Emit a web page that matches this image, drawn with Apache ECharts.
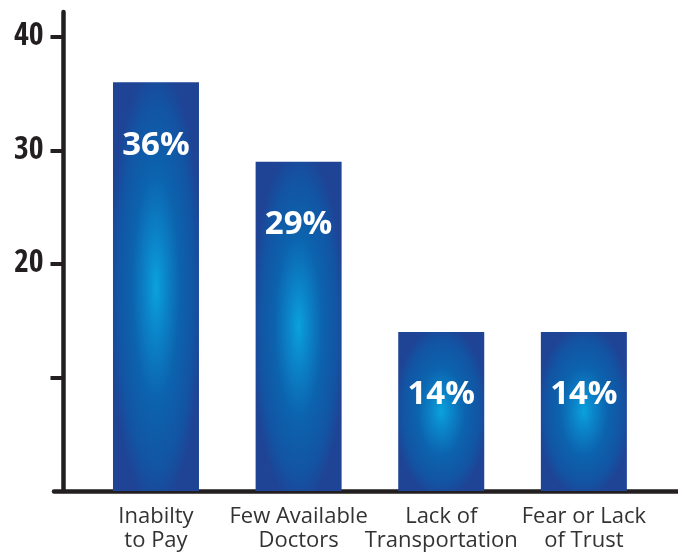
<!DOCTYPE html>
<html>
<head>
<meta charset="utf-8">
<script src="https://cdn.jsdelivr.net/npm/echarts@6/dist/echarts.min.js"></script>
<style>
  html, body { margin: 0; padding: 0; background: #ffffff; }
  #chart { width: 678px; height: 552px; }
</style>
</head>
<body>
<div id="chart"></div>
<script>
// Reasons given for not seeing a doctor (percent of respondents)
const categories = ['Inabilty\nto Pay', 'Few Available\nDoctors', 'Lack of\nTransportation', 'Fear or Lack\nof Trust'];
const percents = [36, 29, 14, 14];
const yTickValues = [10, 20, 30, 40];
const yLabelValues = [20, 30, 40];

const ink = '#231f20';

// Bars sit at positions 1..n on the horizontal value axis
const barData = percents.map((v, i) => [i + 1, v]);

const barFill = {
  type: 'radial', x: 0.5, y: 0.5, r: 0.55,
  colorStops: [
    { offset: 0, color: '#0aa2dd' },
    { offset: 0.2, color: '#0b86ca' },
    { offset: 0.5, color: '#0c63ae' },
    { offset: 0.8, color: '#1255a4' },
    { offset: 1, color: '#1f4395' }
  ]
};

function renderBar(params, api) {
  const pos = api.value(0);
  const val = api.value(1);
  const top = api.coord([pos, val]);
  const base = api.coord([pos, 0]);
  const w = api.size([0.603, 0])[0];
  const h = base[1] - top[1];
  return {
    type: 'group',
    children: [
      {
        // square with a round glow, stretched to the bar height so the glow becomes an ellipse
        type: 'rect',
        x: top[0],
        y: top[1],
        scaleY: h / w,
        shape: { x: -w / 2, y: 0, width: w, height: w },
        style: { fill: barFill }
      },
      {
        type: 'text',
        x: top[0],
        y: top[1] + 63,
        style: {
          text: val + '%',
          fill: '#ffffff',
          font: 'bold 33px "Open Sans", sans-serif',
          align: 'center',
          verticalAlign: 'middle'
        }
      }
    ]
  };
}

const chart = echarts.init(document.getElementById('chart'), null, { renderer: 'canvas' });

chart.setOption({
  animation: false,
  backgroundColor: '#ffffff',
  grid: { left: 54, right: 0, top: 12, bottom: 61, containLabel: false, outerBoundsMode: 'none' },
  xAxis: {
    type: 'value',
    min: 0.285,
    max: 4.66,
    offset: 2,
    splitLine: { show: false },
    axisLine: { show: true, lineStyle: { color: ink, width: 4.5 } },
    axisTick: { show: false },
    axisLabel: {
      customValues: categories.map((c, i) => i + 1),
      formatter: v => categories[Math.round(v) - 1] || '',
      color: '#333333',
      fontFamily: '"Open Sans", sans-serif',
      fontSize: 22,
      lineHeight: 24,
      margin: 12
    }
  },
  yAxis: {
    type: 'value',
    min: 0,
    max: 42.2,
    interval: 10,
    offset: -9.5,
    splitLine: { show: false },
    axisLine: { show: true, lineStyle: { color: ink, width: 4.5 } },
    axisTick: {
      show: true,
      customValues: yTickValues,
      length: 13,
      lineStyle: { color: ink, width: 4 }
    },
    axisLabel: {
      customValues: yLabelValues,
      color: ink,
      fontFamily: '"Open Sans Condensed", "Open Sans", sans-serif',
      fontWeight: 'bold condensed',
      fontSize: 32,
      margin: 20,
      padding: [5, 0, 0, 0]
    }
  },
  series: [{
    type: 'custom',
    renderItem: renderBar,
    data: barData,
    encode: { x: 0, y: 1 },
    silent: true
  }]
});
</script>
</body>
</html>
